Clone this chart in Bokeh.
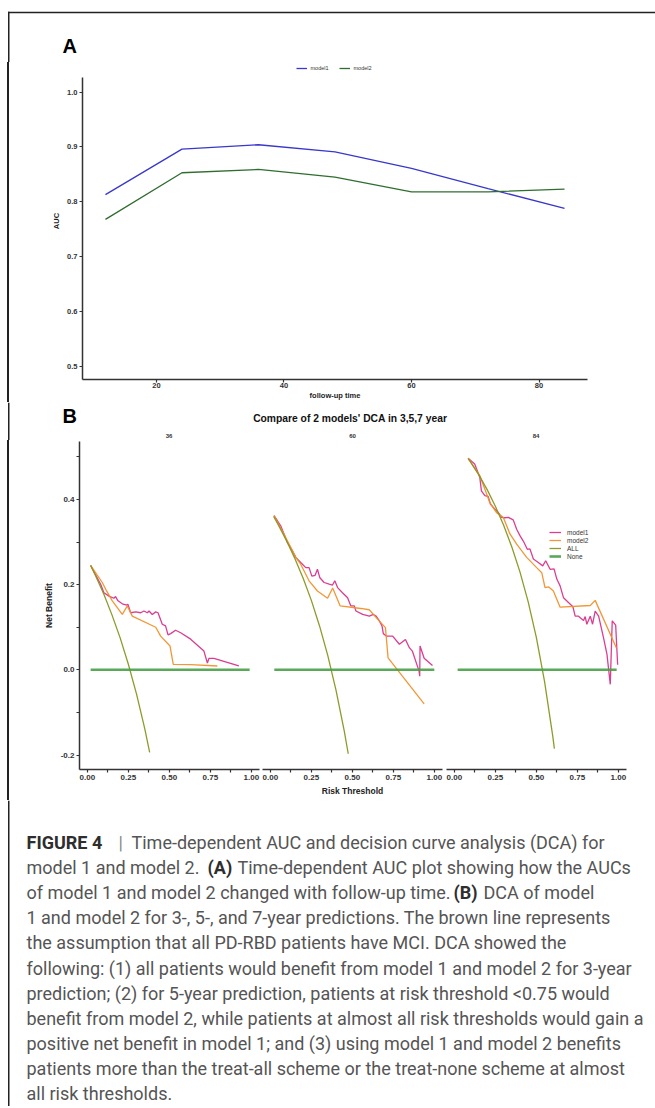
from bokeh.plotting import figure
from bokeh.layouts import row
from bokeh.models import (Range1d, FixedTicker, Legend, LegendItem, PrintfTickFormatter, Span, Div,
                          BoxAnnotation)
from bokeh.core.properties import value
from bokeh.embed import file_html
from bokeh.resources import INLINE

# ---------------- data: panel A (time-dependent AUC) ----------------
followup_time = [12, 24, 36, 48, 60, 72, 84]
auc_model1 = [0.813, 0.896, 0.904, 0.891, 0.861, 0.824, 0.788]
auc_model2 = [0.768, 0.853, 0.859, 0.845, 0.818, 0.818, 0.823]
auc_x_ticks = [20, 40, 60, 80]
auc_y_ticks = [0.5, 0.6, 0.7, 0.8, 0.9, 1.0]

# ---------------- data: panel B (DCA), facets 36 / 60 / 84 ----------------
facet_labels = ["36", "60", "84"]

m1_36_x = [0.02, 0.081, 0.101, 0.132, 0.162, 0.172, 0.187, 0.213, 0.240, 0.247, 0.264, 0.295, 0.325,
           0.345, 0.366, 0.376, 0.396, 0.417, 0.431, 0.457, 0.477, 0.492, 0.508, 0.538, 0.569, 0.630,
           0.711, 0.732, 0.742, 0.772, 0.924]
m1_36_y = [0.245, 0.201, 0.181, 0.173, 0.168, 0.172, 0.162, 0.155, 0.152, 0.154, 0.134, 0.136, 0.134,
           0.138, 0.134, 0.138, 0.130, 0.136, 0.134, 0.107, 0.103, 0.082, 0.085, 0.093, 0.087, 0.072,
           0.044, 0.016, 0.027, 0.027, 0.009]
m2_36_x = [0.02, 0.091, 0.112, 0.152, 0.213, 0.244, 0.274, 0.417, 0.447, 0.504, 0.524, 0.630, 0.793]
m2_36_y = [0.245, 0.205, 0.189, 0.162, 0.130, 0.150, 0.126, 0.100, 0.079, 0.056, 0.013, 0.012, 0.009]
all_36_x = [0.02, 0.05, 0.10, 0.15, 0.20, 0.25, 0.30, 0.35, 0.38]
all_36_y = [0.245, 0.221, 0.178, 0.129, 0.075, 0.013, -0.057, -0.138, -0.194]
none_36_x = [0.02, 0.99]
none_36_y = [0.0, 0.0]

m1_60_x = [0.022, 0.043, 0.063, 0.104, 0.135, 0.155, 0.185, 0.216, 0.236, 0.253, 0.273, 0.287, 0.302,
           0.328, 0.359, 0.379, 0.393, 0.410, 0.440, 0.471, 0.491, 0.512, 0.522, 0.563, 0.604, 0.628,
           0.645, 0.665, 0.681, 0.689, 0.709, 0.746, 0.787, 0.824, 0.848, 0.866, 0.907, 0.911, 0.913,
           0.938, 0.989]
m1_60_y = [0.362, 0.350, 0.338, 0.299, 0.279, 0.264, 0.252, 0.240, 0.240, 0.220, 0.222, 0.236, 0.216,
           0.205, 0.201, 0.199, 0.209, 0.193, 0.181, 0.169, 0.150, 0.150, 0.138, 0.130, 0.126, 0.130,
           0.126, 0.115, 0.103, 0.085, 0.079, 0.079, 0.060, 0.071, 0.052, 0.044, -0.003, -0.015, 0.056,
           0.027, 0.010]
m2_60_x = [0.022, 0.073, 0.114, 0.155, 0.185, 0.236, 0.287, 0.349, 0.380, 0.426, 0.552, 0.603, 0.654,
           0.702, 0.718, 0.938]
m2_60_y = [0.362, 0.326, 0.295, 0.264, 0.248, 0.209, 0.185, 0.168, 0.192, 0.150, 0.144, 0.141, 0.119,
           0.099, 0.028, -0.080]
all_60_x = [0.02, 0.05, 0.10, 0.15, 0.20, 0.25, 0.30, 0.35, 0.40, 0.45, 0.475]
all_60_y = [0.360, 0.339, 0.302, 0.261, 0.215, 0.163, 0.103, 0.034, -0.047, -0.142, -0.197]
none_60_x = [0.024, 1.0]
none_60_y = [0.0, 0.0]

m1_84_x = [0.084, 0.124, 0.155, 0.165, 0.186, 0.206, 0.220, 0.247, 0.268, 0.288, 0.308, 0.329, 0.359,
           0.380, 0.400, 0.425, 0.445, 0.461, 0.482, 0.512, 0.539, 0.557, 0.584, 0.608, 0.625, 0.645,
           0.666, 0.696, 0.723, 0.737, 0.757, 0.788, 0.798, 0.808, 0.829, 0.843, 0.859, 0.880, 0.910,
           0.931, 0.951, 0.963, 0.984, 0.996]
m1_84_y = [0.497, 0.483, 0.452, 0.420, 0.409, 0.407, 0.389, 0.377, 0.369, 0.358, 0.357, 0.358, 0.352,
           0.330, 0.315, 0.299, 0.283, 0.284, 0.260, 0.252, 0.244, 0.256, 0.236, 0.237, 0.213, 0.197,
           0.169, 0.158, 0.148, 0.126, 0.126, 0.116, 0.125, 0.107, 0.126, 0.107, 0.138, 0.126, 0.075,
           0.036, -0.034, 0.115, 0.105, 0.012]
m2_84_x = [0.084, 0.155, 0.216, 0.257, 0.298, 0.339, 0.380, 0.441, 0.502, 0.533, 0.553, 0.574, 0.604,
           0.645, 0.829, 0.859, 0.988]
m2_84_y = [0.497, 0.456, 0.393, 0.369, 0.358, 0.319, 0.295, 0.264, 0.240, 0.228, 0.193, 0.195, 0.185,
           0.147, 0.151, 0.163, 0.052]
all_84_x = [0.084, 0.10, 0.15, 0.20, 0.25, 0.30, 0.35, 0.40, 0.45, 0.50, 0.55, 0.60, 0.61]
all_84_y = [0.496, 0.487, 0.457, 0.423, 0.384, 0.340, 0.289, 0.230, 0.160, 0.076, -0.027, -0.155, -0.185]
none_84_x = [0.02, 0.99]
none_84_y = [0.0, 0.0]

risk_major = [0.0, 0.25, 0.5, 0.75, 1.0]
risk_minor = [0.125, 0.375, 0.625, 0.875]
nb_major = [-0.2, 0.0, 0.2, 0.4]
nb_minor = [-0.1, 0.1, 0.3, 0.5]
dca_series = ["model1", "model2", "ALL", "None"]

caption_segments = [
    [("FIGURE 4", "bold"), ("|", "normal"), ("Time-dependent AUC and decision curve analysis (DCA) for", "normal")],
    [("model 1 and model 2.", "normal"), ("(A)", "bold"), ("Time-dependent AUC plot showing how the AUCs", "normal")],
    [("of model 1 and model 2 changed with follow-up time.", "normal"), ("(B)", "bold"), ("DCA of model", "normal")],
    [("1 and model 2 for 3-, 5-, and 7-year predictions. The brown line represents", "normal")],
    [("the assumption that all PD-RBD patients have MCI. DCA showed the", "normal")],
    [("following: (1) all patients would benefit from model 1 and model 2 for 3-year", "normal")],
    [("prediction; (2) for 5-year prediction, patients at risk threshold <0.75 would", "normal")],
    [("benefit from model 2, while patients at almost all risk thresholds would gain a", "normal")],
    [("positive net benefit in model 1; and (3) using model 1 and model 2 benefits", "normal")],
    [("patients more than the treat-all scheme or the treat-none scheme at almost", "normal")],
    [("all risk thresholds.", "normal")],
]

# ---------------- styling / layout constants ----------------
FONT = "Liberation Sans"
CAP_FONT = "Roboto"
AX = "#333333"
FRAME = "#222222"
A_BLUE = "#3838cc"
A_GREEN = "#2f6e2f"
C_M1 = "#d9338a"
C_M2 = "#f0912c"
C_ALL = "#87961f"
C_NONE = "#47a047"
W = 655

caption_seg_x = [[26, 118, 131], [26, 207, 237], [26, 453, 483], [26], [26], [26], [26], [26], [26], [26], [26]]


def style_axis(ax, label_size, title_size="8.5px"):
    ax.axis_line_color = AX
    ax.axis_line_width = 1.5
    ax.major_tick_line_color = AX
    ax.major_tick_line_width = 1.2
    ax.major_tick_out = 3
    ax.major_tick_in = 0
    ax.minor_tick_line_color = AX
    ax.minor_tick_line_width = 1.2
    ax.minor_tick_out = 3
    ax.minor_tick_in = 0
    ax.major_label_text_font = FONT
    ax.major_label_text_font_style = "bold"
    ax.major_label_text_font_size = label_size
    ax.major_label_text_color = "#333333"
    ax.major_label_standoff = 2
    ax.axis_label_text_font = FONT
    ax.axis_label_text_font_style = "bold"
    ax.axis_label_text_font_size = title_size
    ax.axis_label_text_color = "#222222"


def canvas(h):
    p = figure(width=W, height=h, x_range=Range1d(0, W), y_range=Range1d(h, 0),
               x_axis_location=None, y_axis_location=None, toolbar_location=None,
               output_backend="svg", min_border=0, min_border_left=0, min_border_right=0,
               min_border_top=0, min_border_bottom=0)
    p.grid.visible = False
    p.outline_line_color = None
    return p


def strip(h):
    # left frame line of the figure box, drawn as a thin styled block
    return Div(width=9, height=h, text="", margin=(0, 0, 0, 0),
               styles={"background": "linear-gradient(to right, #ffffff 7.5px, %s 7.5px)" % FRAME,
                       "padding": "0px", "margin": "0px"})


def txt(p, x, y, s, size, style="normal", align="left", baseline="middle", color="#111111", font=FONT):
    p.text(x=[x], y=[y], text=[s], text_font=value(font), text_font_size=value(size),
           text_font_style=style, text_align=align, text_baseline=baseline, text_color=color)


# ---------------- top strip with "A" ----------------
top = canvas(62)
top.add_layout(BoxAnnotation(left=7.5, right=W, top=11.25, bottom=12.75, fill_color=FRAME,
                             fill_alpha=1, line_alpha=0))
top.add_layout(BoxAnnotation(left=7.5, right=9, top=11.25, bottom=62, fill_color=FRAME,
                             fill_alpha=1, line_alpha=0))
txt(top, 62, 45, "A", "20px", style="bold", baseline="alphabetic", color="#000000")

# ---------------- panel A ----------------
pA = figure(width=646, height=340, x_range=Range1d(8.4, 87.6), y_range=Range1d(0.476, 1.054),
            toolbar_location=None, output_backend="svg",
            min_border_left=73, min_border_right=68, min_border_top=0, min_border_bottom=22)
pA.grid.visible = False
pA.outline_line_color = None
rA1 = pA.line(followup_time, auc_model1, line_color=A_BLUE, line_width=1.3)
rA2 = pA.line(followup_time, auc_model2, line_color=A_GREEN, line_width=1.3)
pA.xaxis.ticker = FixedTicker(ticks=auc_x_ticks, minor_ticks=[])
pA.yaxis.ticker = FixedTicker(ticks=auc_y_ticks, minor_ticks=[])
pA.yaxis.formatter = PrintfTickFormatter(format="%.1f")
pA.xaxis.formatter = PrintfTickFormatter(format="%d")
pA.yaxis.bounds = (0.476, 1.027)
style_axis(pA.xaxis[0], "7.5px", "7.5px")
style_axis(pA.yaxis[0], "7.5px", "7.5px")
pA.xaxis.major_label_standoff = 0
pA.xaxis.axis_label = "follow-up time"
pA.yaxis.axis_label = "AUC"
pA.xaxis.axis_label_standoff = 0
pA.yaxis.axis_label_standoff = 3
legA = Legend(items=[LegendItem(label="model1", renderers=[rA1]),
                     LegendItem(label="model2", renderers=[rA2])],
              orientation="horizontal", location="top_center",
              label_text_font=FONT, label_text_font_size="5.5px", label_text_color="#333333",
              glyph_width=11, glyph_height=6, label_height=6, label_standoff=4, spacing=8,
              padding=1, margin=3, border_line_color=None, background_fill_alpha=0)
pA.add_layout(legA)
rowA = row(strip(340), pA)

# ---------------- header for panel B ----------------
hB = canvas(38)
hB.add_layout(Span(location=8.25, dimension="height", line_color=FRAME, line_width=1.5))
txt(hB, 62, 13.5, "B", "20px", style="bold", baseline="alphabetic", color="#000000")
txt(hB, 349.7, 16, "Compare of 2 models' DCA in 3,5,7 year", "10.3px", style="bold", align="center")
for cx, lab in zip([168.5, 352, 535.5], facet_labels):
    txt(hB, cx, 33.5, lab, "6px", style="bold", align="center", color="#333333")


# ---------------- DCA facets ----------------
def dca_panel(width, left, right, show_y, xs, ys, xlabel=None, legend=False):
    p = figure(width=width, height=360, x_range=Range1d(-0.048, 1.05), y_range=Range1d(-0.234, 0.536),
               toolbar_location=None, output_backend="svg",
               y_axis_location="left" if show_y else None,
               min_border_left=left, min_border_right=right, min_border_top=1, min_border_bottom=31)
    p.grid.visible = False
    p.outline_line_color = None
    colors = [C_M1, C_M2, C_ALL, C_NONE]
    widths = [1.3, 1.3, 1.3, 2.6]
    rs = []
    for x, y, c, w in zip(xs, ys, colors, widths):
        rs.append(p.line(x, y, line_color=c, line_width=w, line_alpha=0.95 if c != C_NONE else 0.9))
    p.xaxis.ticker = FixedTicker(ticks=risk_major, minor_ticks=risk_minor)
    p.xaxis.formatter = PrintfTickFormatter(format="%.2f")
    style_axis(p.xaxis[0], "8px")
    if show_y:
        p.yaxis.ticker = FixedTicker(ticks=nb_major, minor_ticks=nb_minor)
        p.yaxis.formatter = PrintfTickFormatter(format="%.1f")
        style_axis(p.yaxis[0], "8px")
        p.yaxis.axis_label = "Net Benefit"
        p.yaxis.axis_label_standoff = 4
    if xlabel:
        p.xaxis.axis_label = xlabel
        p.xaxis.axis_label_standoff = 3
    if legend:
        leg = Legend(items=[LegendItem(label=n, renderers=[r]) for n, r in zip(dca_series, rs)],
                     location=(103, 209), label_text_font=FONT, label_text_font_size="6.5px",
                     label_text_color="#333333", glyph_width=12, glyph_height=8, label_height=8,
                     label_standoff=6, spacing=0, padding=2, margin=0,
                     border_line_color=None, background_fill_alpha=0)
        p.add_layout(leg)
    return p


b1 = dca_panel(251, 70, 1, True, [m1_36_x, m2_36_x, all_36_x, none_36_x],
               [m1_36_y, m2_36_y, all_36_y, none_36_y])
b2 = dca_panel(184, 2, 2, False, [m1_60_x, m2_60_x, all_60_x, none_60_x],
               [m1_60_y, m2_60_y, all_60_y, none_60_y], xlabel="Risk Threshold")
b3 = dca_panel(211, 2, 29, False, [m1_84_x, m2_84_x, all_84_x, none_84_x],
               [m1_84_y, m2_84_y, all_84_y, none_84_y], legend=True)
rowB = row(strip(360), b1, b2, b3)

# ---------------- caption ----------------
cap = canvas(306)
cap.add_layout(Span(location=8.25, dimension="height", line_color=FRAME, line_width=1.5))
for i, (segs, xs) in enumerate(zip(caption_segments, caption_seg_x)):
    y = 42 + 25.1 * i
    for (s, st), x in zip(segs, xs):
        col = "#2e2e2e" if st == "bold" else ("#888888" if s == "|" else "#555555")
        txt(cap, x, y, s, "18px", style=st, color=col, font=CAP_FONT)

open("out.html", "w").write(file_html([top, rowA, hB, rowB, cap], INLINE))
